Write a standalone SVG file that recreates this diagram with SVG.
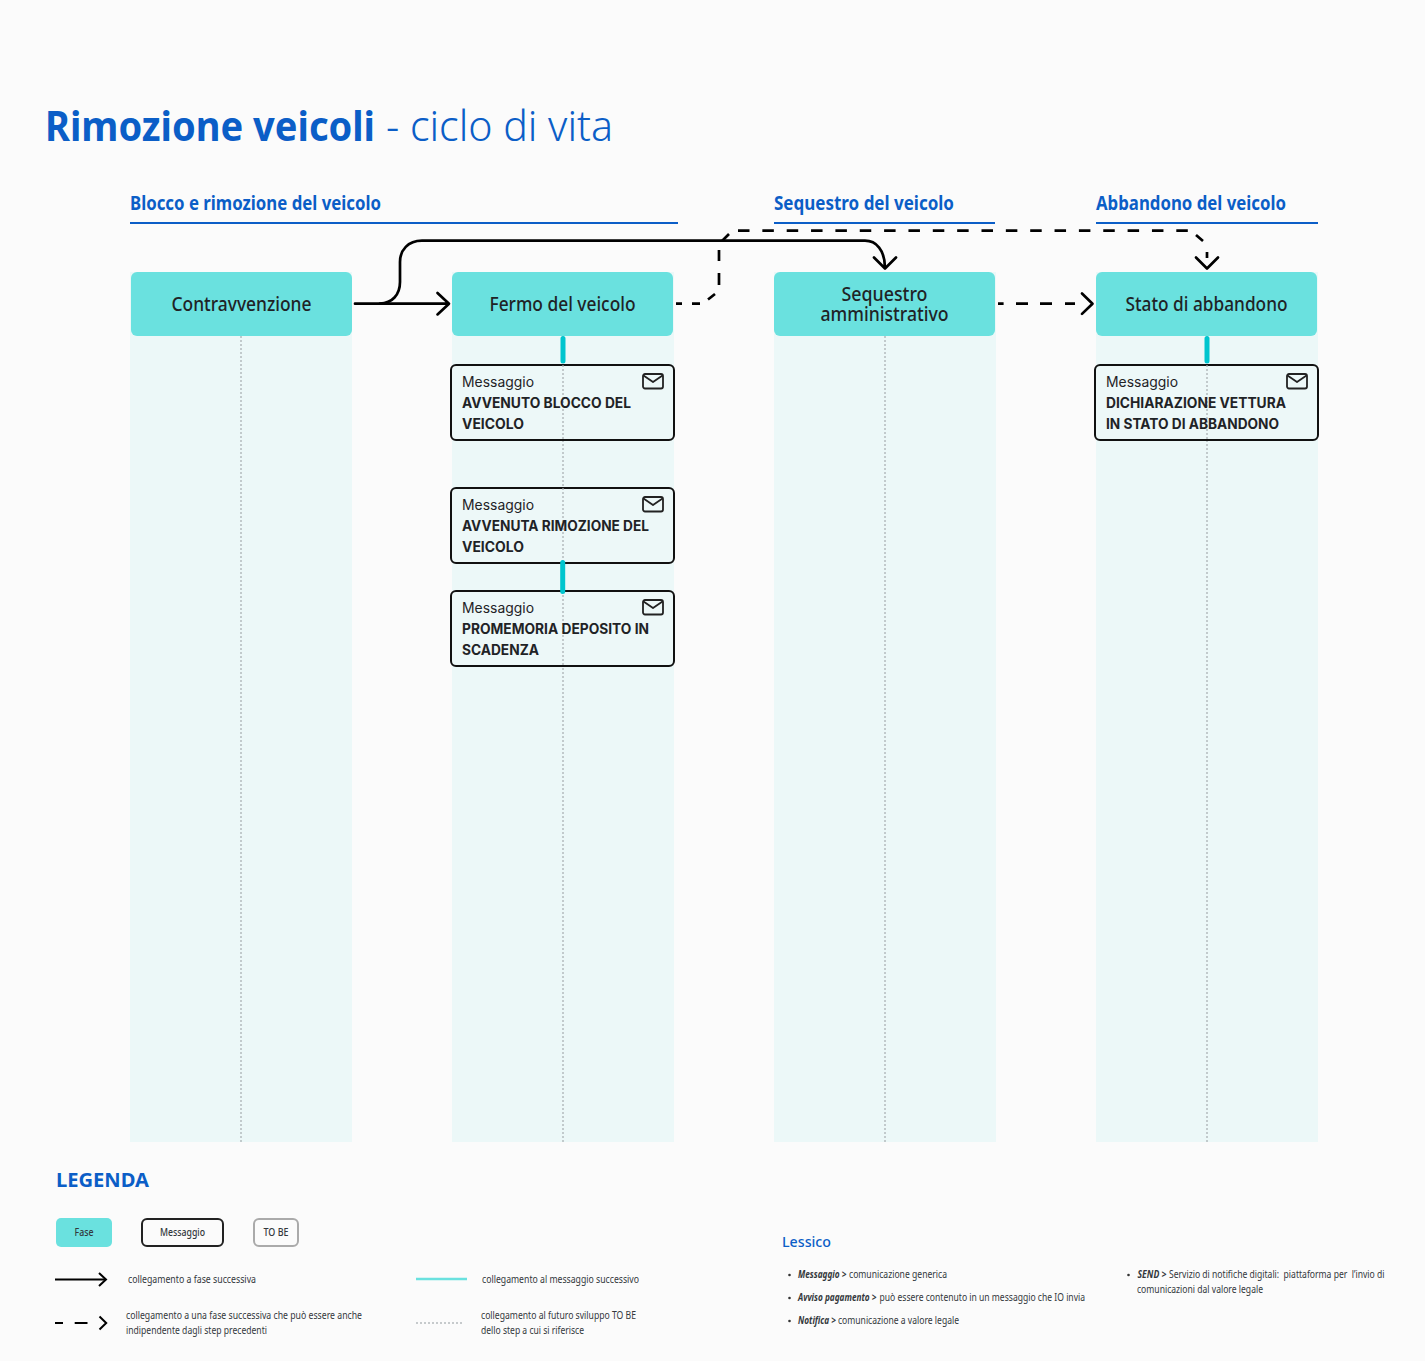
<svg xmlns="http://www.w3.org/2000/svg" width="1425" height="1361" viewBox="0 0 1425 1361">
<style>
text{font-family:"Noto Sans","Liberation Sans",sans-serif;fill:#1f2326}
.h{font-weight:700;font-size:19px;fill:#0b5ec7}
.rule{fill:#0b5ec7}
.lane{fill:#ecf8f8}
.dot{stroke:#a6acb0;stroke-width:1.2;stroke-dasharray:2 2;fill:none}
.fase{fill:#6ae1df}
.ft{font-size:20px;font-weight:500;text-anchor:middle}
.msg{fill:#edf8f8;stroke:#111;stroke-width:2}
.m1{font-family:Inter,"Liberation Sans",sans-serif;font-size:14px}
.m2{font-family:Inter,"Liberation Sans",sans-serif;font-size:14px;font-weight:700}
.env{fill:none;stroke:#222;stroke-width:1.8;stroke-linejoin:round}
.tl{stroke:#00c5ce;stroke-width:5;stroke-linecap:round;fill:none}
.c{fill:none;stroke:#000;stroke-width:2.7;stroke-linejoin:round;stroke-linecap:round}
.d{fill:none;stroke:#000;stroke-width:2.7}
.s{font-size:10px;fill:#33383c}
.sb{font-size:10px;fill:#33383c;font-style:italic;font-weight:700}
</style>
<rect width="1425" height="1361" fill="#fbfbfb"/>
<text x="45" y="141" font-size="42" font-weight="700" style="fill:#0b5ec7" textLength="330" lengthAdjust="spacingAndGlyphs">Rimozione veicoli</text>
<text x="386" y="141" font-size="42" font-weight="300" style="fill:#0b5ec7" textLength="227" lengthAdjust="spacingAndGlyphs">- ciclo di vita</text>
<g id="sections">
<text class="h" x="130" y="210" textLength="251" lengthAdjust="spacingAndGlyphs">Blocco e rimozione del veicolo</text><rect class="rule" x="130" y="222" width="548" height="2"/>
<text class="h" x="774" y="210" textLength="180" lengthAdjust="spacingAndGlyphs">Sequestro del veicolo</text><rect class="rule" x="774" y="222" width="221" height="2"/>
<text class="h" x="1096" y="210" textLength="190" lengthAdjust="spacingAndGlyphs">Abbandono del veicolo</text><rect class="rule" x="1096" y="222" width="222" height="2"/>
</g>
<g id="lanes">
<rect class="lane" x="130" y="272" width="222" height="870"/><path class="dot" d="M241 336V1142"/>
<rect class="lane" x="452" y="272" width="222" height="870"/><path class="dot" d="M563 336V1142"/>
<rect class="lane" x="774" y="272" width="222" height="870"/><path class="dot" d="M885 336V1142"/>
<rect class="lane" x="1096" y="272" width="222" height="870"/><path class="dot" d="M1207 336V1142"/>
</g>
<g id="n-contravvenzione"><rect class="fase" x="131" y="272" width="221" height="64" rx="6"/><text class="ft" x="241.500" y="311" textLength="140" lengthAdjust="spacingAndGlyphs">Contravvenzione</text></g>
<g id="n-fermo"><rect class="fase" x="452" y="272" width="221" height="64" rx="6"/><text class="ft" x="562.500" y="311" textLength="146" lengthAdjust="spacingAndGlyphs">Fermo del veicolo</text></g>
<g id="n-sequestro"><rect class="fase" x="774" y="272" width="221" height="64" rx="6"/><text class="ft" x="884.500" y="301" textLength="86" lengthAdjust="spacingAndGlyphs">Sequestro</text><text class="ft" x="884.500" y="321" textLength="128" lengthAdjust="spacingAndGlyphs">amministrativo</text></g>
<g id="n-abbandono"><rect class="fase" x="1096" y="272" width="221" height="64" rx="6"/><text class="ft" x="1206.500" y="311" textLength="162" lengthAdjust="spacingAndGlyphs">Stato di abbandono</text></g>
<defs><g id="envl"><rect class="env" x="0" y="0" width="20" height="14.500" rx="2"/><path class="env" d="M0.500 1.500L10 8L19.500 1.500"/></g></defs>
<g id="m1"><rect class="msg" x="451" y="365" width="223" height="75" rx="5"/><path class="dot" d="M563 365V440"/><text class="m1" x="462" y="387" textLength="72" lengthAdjust="spacingAndGlyphs">Messaggio</text><text class="m2" x="462" y="408" textLength="169" lengthAdjust="spacingAndGlyphs">AVVENUTO BLOCCO DEL</text><text class="m2" x="462" y="429" textLength="62" lengthAdjust="spacingAndGlyphs">VEICOLO</text><use href="#envl" x="643" y="374"/></g>
<g id="m2"><rect class="msg" x="451" y="488" width="223" height="75" rx="5"/><path class="dot" d="M563 488V563"/><text class="m1" x="462" y="510" textLength="72" lengthAdjust="spacingAndGlyphs">Messaggio</text><text class="m2" x="462" y="531" textLength="187" lengthAdjust="spacingAndGlyphs">AVVENUTA RIMOZIONE DEL</text><text class="m2" x="462" y="552" textLength="62" lengthAdjust="spacingAndGlyphs">VEICOLO</text><use href="#envl" x="643" y="497"/></g>
<g id="m3"><rect class="msg" x="451" y="591" width="223" height="75" rx="5"/><path class="dot" d="M563 591V666"/><text class="m1" x="462" y="613" textLength="72" lengthAdjust="spacingAndGlyphs">Messaggio</text><text class="m2" x="462" y="634" textLength="187" lengthAdjust="spacingAndGlyphs">PROMEMORIA DEPOSITO IN</text><text class="m2" x="462" y="655" textLength="77" lengthAdjust="spacingAndGlyphs">SCADENZA</text><use href="#envl" x="643" y="600"/></g>
<g id="m4"><rect class="msg" x="1095" y="365" width="223" height="75" rx="5"/><path class="dot" d="M1207 365V440"/><text class="m1" x="1106" y="387" textLength="72" lengthAdjust="spacingAndGlyphs">Messaggio</text><text class="m2" x="1106" y="408" textLength="180" lengthAdjust="spacingAndGlyphs">DICHIARAZIONE VETTURA</text><text class="m2" x="1106" y="429" textLength="173" lengthAdjust="spacingAndGlyphs">IN STATO DI ABBANDONO</text><use href="#envl" x="1287" y="374"/></g>
<g id="connectors">
<path class="tl" d="M563 338.500V361M1207 338.500V361M562.700 562.500V591.500"/>
<path class="c" d="M355 303.700H448M437.500 293l11.500 10.700l-11.500 10.700"/>
<path class="c" d="M380 303.700C392 303 400 295 400 282V262C400 250 408 240.700 422 240.700H865C876 240.700 885 250 885 268M874 257.500l11 11l11 -11"/>
<path class="d" d="M676 303.700H682M692 303.700H700M708 299.500L715 294M719 285V273M719 261V250M722 241L729 234"/>
<path class="d" d="M738 230.700H1188" stroke-dasharray="11.500 12.850"/>
<path class="d" d="M1196 235L1203 241M1207 252V258"/>
<path class="c" d="M1196 257.500l11 11l11 -11"/>
<path class="d" d="M998 303.700H1003.600M1016 303.700H1028M1040 303.700H1052M1065 303.700H1075"/>
<path class="c" d="M1082 293.500l10.500 10.200l-10.500 10.200"/>
</g>
<g id="legend">
<text x="56" y="1187" font-size="20" font-weight="700" style="fill:#0b5ec7" textLength="93" lengthAdjust="spacingAndGlyphs">LEGENDA</text>
<rect class="fase" x="56" y="1218" width="56" height="29" rx="5"/><text class="s" x="84" y="1236" text-anchor="middle" textLength="19" lengthAdjust="spacingAndGlyphs" font-weight="500">Fase</text>
<rect x="142" y="1219" width="81" height="27" rx="5" fill="none" stroke="#222" stroke-width="2"/><text class="s" x="182.500" y="1236" text-anchor="middle" textLength="45" lengthAdjust="spacingAndGlyphs" font-weight="500">Messaggio</text>
<rect x="254" y="1219" width="44" height="27" rx="5" fill="none" stroke="#aaa" stroke-width="2"/><text class="s" x="276" y="1236" text-anchor="middle" textLength="25" lengthAdjust="spacingAndGlyphs" font-weight="500">TO BE</text>
<path d="M55 1279.500H106" fill="none" stroke="#000" stroke-width="2"/><path d="M99 1273l7 6.500l-7 6.500" fill="none" stroke="#000" stroke-width="2"/>
<text class="s" x="128" y="1283" textLength="128" lengthAdjust="spacingAndGlyphs">collegamento a fase successiva</text>
<path d="M55 1323H63M74.700 1323H87.500" fill="none" stroke="#000" stroke-width="2"/><path d="M99.500 1316.500l6.700 6.500l-6.700 6.500" fill="none" stroke="#000" stroke-width="2"/>
<text class="s" x="126" y="1319" textLength="236" lengthAdjust="spacingAndGlyphs">collegamento a una fase successiva che può essere anche</text>
<text class="s" x="126" y="1334" textLength="141" lengthAdjust="spacingAndGlyphs">indipendente dagli step precedenti</text>
<path d="M416 1279H467" stroke="#6ae1df" stroke-width="2.400" fill="none"/>
<text class="s" x="482" y="1283" textLength="157" lengthAdjust="spacingAndGlyphs">collegamento al messaggio successivo</text>
<path d="M416 1323H463" stroke="#b5babd" stroke-width="1.500" stroke-dasharray="2 2" fill="none"/>
<text class="s" x="481" y="1319" textLength="155" lengthAdjust="spacingAndGlyphs">collegamento al futuro sviluppo TO BE</text>
<text class="s" x="481" y="1334" textLength="103" lengthAdjust="spacingAndGlyphs">dello step a cui si riferisce</text>
</g>
<g id="lessico">
<text x="782" y="1247" font-size="15" font-weight="500" style="fill:#0b5ec7" textLength="49" lengthAdjust="spacingAndGlyphs">Lessico</text>
<circle cx="789.500" cy="1275" r="1.300" fill="#333"/><text class="sb" x="798" y="1278" textLength="48.500" lengthAdjust="spacingAndGlyphs">Messaggio &gt;</text><text class="s" x="849" y="1278" textLength="98" lengthAdjust="spacingAndGlyphs">comunicazione generica</text>
<circle cx="789.500" cy="1298" r="1.300" fill="#333"/><text class="sb" x="798" y="1301" textLength="78.500" lengthAdjust="spacingAndGlyphs">Avviso pagamento &gt;</text><text class="s" x="879.500" y="1301" textLength="205.500" lengthAdjust="spacingAndGlyphs">può essere contenuto in un messaggio che IO invia</text>
<circle cx="789.500" cy="1321" r="1.300" fill="#333"/><text class="sb" x="798" y="1324" textLength="38" lengthAdjust="spacingAndGlyphs">Notifica &gt;</text><text class="s" x="838" y="1324" textLength="121" lengthAdjust="spacingAndGlyphs">comunicazione a valore legale</text>
<circle cx="1128.500" cy="1275" r="1.300" fill="#333"/><text class="sb" x="1137.500" y="1278" textLength="29" lengthAdjust="spacingAndGlyphs">SEND &gt;</text><text class="s" x="1169" y="1278" textLength="215.500" lengthAdjust="spacingAndGlyphs" xml:space="preserve">Servizio di notifiche digitali:  piattaforma per  l’invio di</text>
<text class="s" x="1137" y="1293" textLength="126" lengthAdjust="spacingAndGlyphs">comunicazioni dal valore legale</text>
</g>
</svg>
